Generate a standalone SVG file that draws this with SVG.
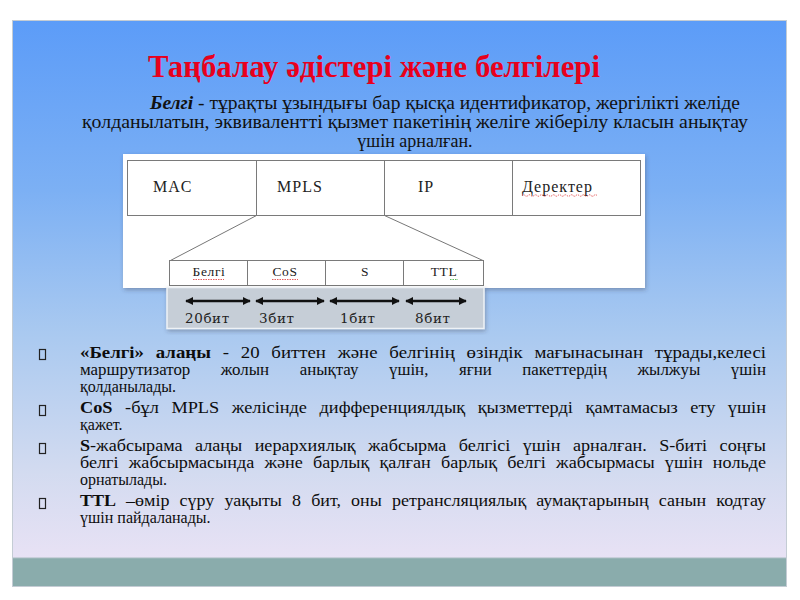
<svg xmlns="http://www.w3.org/2000/svg" width="800" height="600" viewBox="0 0 800 600">
<defs>
<linearGradient id="bg" x1="0" y1="0" x2="0" y2="1">
<stop offset="0" stop-color="#5c9cf8"/>
<stop offset="0.3" stop-color="#7cb0f4"/>
<stop offset="0.55" stop-color="#a9c9f0"/>
<stop offset="0.8" stop-color="#d3dbf0"/>
<stop offset="1" stop-color="#efe4f6"/>
</linearGradient>
<filter id="sh" x="-5%" y="-5%" width="110%" height="120%">
<feDropShadow dx="1" dy="2" stdDeviation="2" flood-color="#334" flood-opacity="0.35"/>
</filter>
<marker id="ah" viewBox="0 0 10 10" refX="9" refY="5" markerWidth="3.2" markerHeight="3.2" orient="auto-start-reverse">
<path d="M0,0 L10,5 L0,10 z" fill="#111"/>
</marker>
<style>
.t{font-family:"Liberation Serif","Times New Roman",serif;fill:#111}
.cell{fill:#fff;stroke:#7a7a7a;stroke-width:1}
.lbl{font-family:"Liberation Serif","Times New Roman",serif;fill:#222;font-size:16px;letter-spacing:1px}
.sl{font-family:"Liberation Serif","Times New Roman",serif;fill:#222;font-size:13.5px;text-anchor:middle;letter-spacing:0.6px}
.bit{font-family:"DejaVu Serif","Liberation Serif",serif;fill:#222;font-size:13.5px;letter-spacing:0.6px}
.arr{stroke:#111;stroke-width:2.6;marker-start:url(#ah);marker-end:url(#ah)}
.zl{stroke:#777;stroke-width:1;fill:none}
.b{font-family:"Liberation Serif","Times New Roman",serif;fill:#0d0d0d;font-size:16px}
.bul{fill:none;stroke:#222;stroke-width:1.2}
.wr{fill:none;stroke:#d33;stroke-width:0.8;stroke-dasharray:1.5 1}
.wg{fill:none;stroke:#3a3;stroke-width:0.8;stroke-dasharray:1.5 1}
</style>
</defs>
<rect x="0" y="0" width="800" height="600" fill="#fff"/>
<rect x="12.5" y="20.5" width="774" height="566" fill="url(#bg)" stroke="#c4ccd4" stroke-width="1"/>
<rect x="13" y="558" width="773" height="28" fill="#8aacac"/>
<line x1="13" y1="558" x2="786" y2="558" stroke="#a8bcc0" stroke-width="1"/>

<g id="title">
<text x="148" y="77" textLength="452" lengthAdjust="spacingAndGlyphs" font-family="Liberation Serif, Times New Roman, serif" font-weight="bold" font-size="31" fill="#e8001c">Таңбалау әдістері және белгілері</text>
</g>

<g id="intro" class="t" font-size="18">
<text x="150" y="109" textLength="590" lengthAdjust="spacingAndGlyphs"><tspan font-weight="bold" font-style="italic">Белгі</tspan> - тұрақты ұзындығы бар қысқа идентификатор, жергілікті желіде</text>
<text x="82" y="128" textLength="666" lengthAdjust="spacingAndGlyphs">қолданылатын,  эквивалентті қызмет пакетінің желіге жіберілу  класын анықтау</text>
<text x="415" y="147" text-anchor="middle">үшін арналған.</text>
</g>

<g id="frame-panel">
<rect x="123" y="154" width="522" height="134" fill="#fff" filter="url(#sh)"/>
</g>

<g id="frame-table">
<rect class="cell" x="127.5" y="160.5" width="129" height="55"/>
<rect class="cell" x="256.5" y="160.5" width="128" height="55"/>
<rect class="cell" x="384.5" y="160.5" width="128" height="55"/>
<rect class="cell" x="512.5" y="160.5" width="128" height="55"/>
<text class="lbl" x="153" y="192">MAC</text>
<text class="lbl" x="277" y="192">MPLS</text>
<text class="lbl" x="418" y="192">IP</text>
<text class="lbl" x="522" y="192">Деректер</text>
<path class="wr" d="M522,195.5 q1.5,-1.5 3,0 t3,0 t3,0 t3,0 t3,0 t3,0 t3,0 t3,0 t3,0 t3,0 t3,0 t3,0 t3,0 t3,0 t3,0 t3,0 t3,0 t3,0 t3,0 t3,0 t3,0 t3,0 t3,0 t3,0 t3,0"/>
</g>

<g id="connectors">
<line class="zl" x1="256.5" y1="215.5" x2="169.5" y2="261"/>
<line class="zl" x1="384.5" y1="215.5" x2="484" y2="261"/>
</g>

<g id="mpls-fields">
<rect class="cell" x="169.5" y="260.5" width="78" height="25"/>
<rect class="cell" x="247.5" y="260.5" width="78" height="25"/>
<rect class="cell" x="325.5" y="260.5" width="78" height="25"/>
<rect class="cell" x="403.5" y="260.5" width="80" height="25"/>
<text class="sl" x="209" y="276">Белгі</text>
<text class="sl" x="285" y="276">CoS</text>
<text class="sl" x="365" y="276">S</text>
<text class="sl" x="444" y="276">TTL</text>
<path class="wr" d="M193,279.5 h31"/>
<path class="wr" d="M272,279.5 h26"/>
<path class="wg" d="M450,279.5 h8"/>
</g>

<g id="bits">
<rect x="167" y="287.5" width="317" height="41" fill="#c6ced7" stroke="#eef2f6" stroke-width="1.5" filter="url(#sh)"/>
<line class="arr" x1="186" y1="301" x2="250" y2="301"/>
<line class="arr" x1="256" y1="301" x2="324" y2="301"/>
<line class="arr" x1="330" y1="301" x2="399" y2="301"/>
<line class="arr" x1="406" y1="301" x2="466" y2="301"/>
<text class="bit" x="185" y="323">20бит</text>
<text class="bit" x="259" y="323">3бит</text>
<text class="bit" x="340" y="323">1бит</text>
<text class="bit" x="415" y="323">8бит</text>
</g>

<g id="bullets">
<rect class="bul" x="39.5" y="349.5" width="6" height="10"/>
<rect class="bul" x="39.5" y="405.5" width="6" height="10"/>
<rect class="bul" x="39.5" y="443.5" width="6" height="10"/>
<rect class="bul" x="39.5" y="498.5" width="6" height="10"/>
<text class="b" x="80" y="358" textLength="686" lengthAdjust="spacingAndGlyphs" word-spacing="6"><tspan font-weight="bold">«Белгі» алаңы</tspan>  - 20 биттен және белгінің өзіндік мағынасынан тұрады,келесі</text>
<text class="b" x="80" y="375" textLength="686" lengthAdjust="spacingAndGlyphs" word-spacing="25">маршрутизатор жолын анықтау үшін, яғни пакеттердің жылжуы үшін</text>
<text class="b" x="80" y="392">қолданылады.</text>
<text class="b" x="80" y="413" textLength="686" lengthAdjust="spacingAndGlyphs" word-spacing="7"><tspan font-weight="bold">CoS</tspan> -бұл MPLS желісінде  дифференциялдық қызметтерді қамтамасыз ету үшін</text>
<text class="b" x="80" y="430">қажет.</text>
<text class="b" x="80" y="451" textLength="686" lengthAdjust="spacingAndGlyphs" word-spacing="7"><tspan font-weight="bold">S</tspan>-жабсырама алаңы иерархиялық жабсырма белгісі үшін арналған. S-биті соңғы</text>
<text class="b" x="80" y="468" textLength="686" lengthAdjust="spacingAndGlyphs" word-spacing="5">белгі жабсырмасында және  барлық қалған барлық белгі жабсырмасы үшін нольде</text>
<text class="b" x="80" y="485">орнатылады.</text>
<text class="b" x="80" y="506" textLength="686" lengthAdjust="spacingAndGlyphs" word-spacing="5"><tspan font-weight="bold">TTL</tspan> –өмір сүру уақыты 8 бит, оны ретрансляциялық аумақтарының санын кодтау</text>
<text class="b" x="80" y="523">үшін пайдаланады.</text>
</g>
</svg>
